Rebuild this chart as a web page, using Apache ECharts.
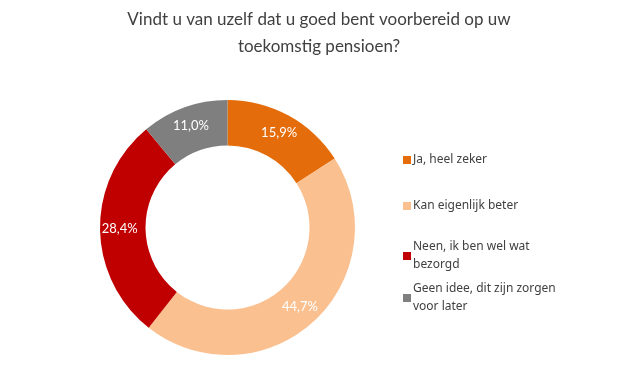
<!DOCTYPE html>
<html>
<head>
<meta charset="utf-8">
<script src="https://cdn.jsdelivr.net/npm/echarts@6/dist/echarts.min.js"></script>
<style>html,body{margin:0;padding:0;background:#fff;}#c{width:638px;height:390px;}</style>
</head>
<body>
<div id="c"></div>
<script>
const categories = ["Ja, heel zeker", "Kan eigenlijk beter", "Neen, ik ben wel wat bezorgd", "Geen idee, dit zijn zorgen voor later"];
const legendLabels = ["Ja, heel zeker", "Kan eigenlijk beter", "Neen, ik ben wel wat\nbezorgd", "Geen idee, dit zijn zorgen\nvoor later"];
const values = [15.9, 44.7, 28.4, 11.0];
const colors = ["#E46C0A", "#FAC090", "#C00000", "#7F7F7F"];
const titleText = "Vindt u van uzelf dat u goed bent voorbereid op uw\ntoekomstig pensioen?";

const chart = echarts.init(document.getElementById('c'), null, {renderer: 'canvas'});
const legendTops = [146, 192, 224, 266];
const legends = categories.map((name, i) => ({
  orient: 'vertical',
  left: 398,
  top: legendTops[i],
  data: [name],
  icon: 'rect',
  itemWidth: 8,
  itemHeight: 8,
  itemGap: 0,
  selectedMode: false,
  formatter: () => legendLabels[i],
  textStyle: {
    fontFamily: 'Noto Sans',
    fontSize: 12,
    color: '#404040',
    lineHeight: 18,
    padding: legendLabels[i].indexOf('\n') >= 0 ? [18, 0, 0, -3] : [0, 0, 0, -3]
  }
}));

chart.setOption({
  animation: false,
  color: colors,
  title: {
    text: titleText,
    left: 'center',
    top: 1,
    textStyle: {
      fontFamily: 'Lato',
      fontSize: 17,
      fontWeight: 'normal',
      color: '#404040',
      lineHeight: 27
    }
  },
  legend: legends,
  series: [{
    type: 'pie',
    center: [227.5, 227.5],
    radius: [82, 127.5],
    startAngle: 90,
    clockwise: true,
    avoidLabelOverlap: false,
    label: {
      show: true,
      position: 'inside',
      color: '#fff',
      fontFamily: 'Lato',
      fontSize: 13,
      formatter: p => p.value.toFixed(1).replace('.', ',') + '%'
    },
    labelLine: {show: false},
    itemStyle: {borderWidth: 0},
    emphasis: {disabled: true},
    data: categories.map((n, i) => ({name: n, value: values[i]}))
  }]
});
</script>
</body>
</html>
